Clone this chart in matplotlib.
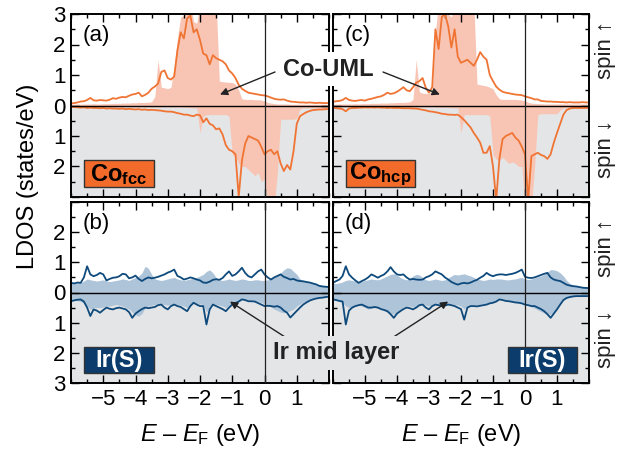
import numpy as np
import matplotlib
matplotlib.use('Agg')
import matplotlib.pyplot as plt
from matplotlib.patches import Rectangle
from matplotlib.ticker import FixedLocator, MultipleLocator, FuncFormatter

plt.rcParams['font.family'] = ['Liberation Sans', 'DejaVu Sans']
plt.rcParams['mathtext.fontset'] = 'custom'
plt.rcParams['mathtext.rm'] = 'Liberation Sans'
plt.rcParams['mathtext.it'] = 'Liberation Sans:italic'
plt.rcParams['mathtext.bf'] = 'Liberation Sans:bold'

# energy grid, -6 ... 2 eV in 0.1 eV steps
energy = np.round(np.linspace(-6, 2, 81), 1)

# Co fcc: filled = reference layer, line = Co-UML (spin down given as magnitude)
co_fcc_up_fill = [
    0.04, 0.04, 0.05, 0.04, 0.05, 0.05, 0.05, 0.06, 0.05, 0.05,
    0.06, 0.06, 0.06, 0.07, 0.07, 0.07, 0.08, 0.08, 0.08, 0.09,
    0.09, 0.10, 0.10, 0.10, 0.11, 0.12, 0.30, 1.50, 0.60, 0.58,
    0.55, 0.60, 1.30, 2.20, 2.90, 2.95, 3.40, 3.40, 2.75, 2.70,
    3.40, 3.40, 3.40, 3.40, 3.40, 3.40, 0.80, 0.78, 0.77, 0.76,
    0.75, 0.70, 0.50, 0.22, 0.20, 0.20, 0.20, 0.19, 0.19, 0.18,
    0.15, 0.10, 0.08, 0.06, 0.05, 0.05, 0.05, 0.05, 0.04, 0.04,
    0.04, 0.04, 0.04, 0.04, 0.04, 0.04, 0.04, 0.04, 0.04, 0.04, 0.04]
co_fcc_dn_fill = [
    0.05, 0.05, 0.05, 0.05, 0.05, 0.05, 0.05, 0.05, 0.05, 0.05,
    0.05, 0.05, 0.05, 0.05, 0.05, 0.05, 0.05, 0.05, 0.05, 0.05,
    0.05, 0.05, 0.05, 0.05, 0.05, 0.05, 0.05, 0.05, 0.05, 0.05,
    0.05, 0.05, 0.05, 0.05, 0.05, 0.06, 0.06, 0.07, 0.08, 0.08,
    0.90, 0.35, 0.30, 0.30, 0.30, 0.30, 0.30, 0.30, 0.30, 0.35,
    1.60, 1.70, 1.90, 2.00, 2.00, 2.10, 2.20, 2.30, 2.20, 2.50,
    2.40, 3.30, 3.30, 3.30, 2.20, 0.45, 0.45, 0.45, 0.45, 0.45,
    0.42, 0.12, 0.08, 0.08, 0.08, 0.08, 0.08, 0.08, 0.08, 0.08, 0.08]
co_fcc_up_line = [
    0.07, 0.08, 0.10, 0.13, 0.14, 0.18, 0.25, 0.17, 0.16, 0.18,
    0.17, 0.16, 0.19, 0.24, 0.22, 0.26, 0.28, 0.27, 0.32, 0.36,
    0.38, 0.42, 0.30, 0.35, 0.42, 0.55, 0.62, 0.72, 1.10, 1.15,
    0.90, 0.85, 0.95, 1.80, 2.40, 2.20, 2.85, 2.95, 2.40, 2.50,
    2.15, 1.70, 1.65, 1.35, 1.65, 1.55, 1.50, 1.45, 1.35, 1.15,
    1.05, 0.90, 0.68, 0.55, 0.48, 0.42, 0.40, 0.38, 0.36, 0.34,
    0.33, 0.30, 0.26, 0.22, 0.20, 0.19, 0.20, 0.16, 0.13, 0.12,
    0.11, 0.10, 0.10, 0.09, 0.10, 0.09, 0.08, 0.09, 0.08, 0.08, 0.08]
co_fcc_dn_line = [
    0.04, 0.05, 0.06, 0.07, 0.06, 0.08, 0.07, 0.08, 0.08, 0.09,
    0.08, 0.10, 0.09, 0.10, 0.10, 0.11, 0.10, 0.12, 0.11, 0.12,
    0.13, 0.12, 0.14, 0.13, 0.15, 0.14, 0.15, 0.16, 0.17, 0.19,
    0.20, 0.20, 0.22, 0.25, 0.27, 0.30, 0.30, 0.33, 0.35, 0.30,
    0.32, 0.55, 0.42, 0.60, 0.65, 0.78, 0.75, 0.95, 1.30, 1.45,
    1.50, 1.60, 3.00, 1.80, 1.25, 1.00, 1.05, 1.10, 1.15, 1.35,
    1.60, 1.50, 1.45, 1.60, 1.50, 1.90, 2.15, 1.95, 2.10, 1.50,
    0.60, 0.35, 0.28, 0.22, 0.18, 0.15, 0.14, 0.13, 0.13, 0.12, 0.12]

# Co hcp
co_hcp_up_fill = [
    0.04, 0.04, 0.05, 0.05, 0.05, 0.05, 0.05, 0.06, 0.05, 0.06,
    0.06, 0.06, 0.07, 0.07, 0.07, 0.08, 0.08, 0.08, 0.09, 0.09,
    0.10, 0.10, 0.10, 0.11, 0.12, 0.20, 1.50, 0.45, 0.40, 0.40,
    0.40, 0.45, 2.40, 3.40, 3.40, 3.40, 3.00, 2.90, 3.40, 3.40,
    3.40, 3.40, 3.40, 3.40, 3.40, 0.70, 0.68, 0.66, 0.64, 0.60,
    0.55, 0.35, 0.22, 0.20, 0.20, 0.20, 0.20, 0.20, 0.19, 0.18,
    0.15, 0.10, 0.08, 0.07, 0.06, 0.06, 0.05, 0.05, 0.05, 0.05,
    0.05, 0.05, 0.05, 0.05, 0.05, 0.05, 0.05, 0.05, 0.05, 0.05, 0.05]
co_hcp_dn_fill = [
    0.05, 0.05, 0.05, 0.05, 0.05, 0.05, 0.05, 0.05, 0.05, 0.05,
    0.05, 0.05, 0.05, 0.05, 0.05, 0.05, 0.05, 0.05, 0.05, 0.05,
    0.05, 0.05, 0.05, 0.05, 0.05, 0.05, 0.05, 0.05, 0.05, 0.05,
    0.05, 0.05, 0.05, 0.06, 0.06, 0.06, 0.07, 0.07, 0.08, 0.08,
    0.90, 0.30, 0.30, 0.30, 0.30, 0.30, 0.30, 0.30, 0.30, 0.35,
    1.60, 1.75, 1.80, 1.70, 1.80, 1.90, 1.85, 1.90, 2.00, 2.00,
    3.30, 3.30, 3.30, 2.00, 0.30, 0.27, 0.27, 0.27, 0.27, 0.27,
    0.27, 0.15, 0.08, 0.08, 0.08, 0.08, 0.08, 0.08, 0.08, 0.08, 0.08]
co_hcp_up_line = [
    0.12, 0.14, 0.15, 0.18, 0.25, 0.18, 0.16, 0.15, 0.17, 0.18,
    0.16, 0.20, 0.22, 0.25, 0.28, 0.30, 0.35, 0.42, 0.38, 0.40,
    0.45, 0.52, 0.60, 0.50, 0.47, 0.60, 0.75, 0.80, 0.90, 0.58,
    0.42, 0.60, 2.50, 1.85, 2.90, 3.00, 2.60, 1.90, 2.50, 1.60,
    1.40, 1.45, 1.50, 1.40, 1.30, 1.50, 1.75, 1.60, 1.50, 1.00,
    0.80, 0.62, 0.52, 0.45, 0.42, 0.40, 0.38, 0.36, 0.35, 0.34,
    0.30, 0.27, 0.24, 0.20, 0.20, 0.15, 0.14, 0.13, 0.13, 0.12,
    0.12, 0.11, 0.11, 0.10, 0.11, 0.10, 0.10, 0.10, 0.11, 0.10, 0.10]
co_hcp_dn_line = [
    0.08, 0.09, 0.10, 0.12, 0.19, 0.10, 0.08, 0.08, 0.07, 0.07,
    0.06, 0.07, 0.06, 0.07, 0.06, 0.07, 0.07, 0.08, 0.07, 0.08,
    0.08, 0.08, 0.09, 0.09, 0.09, 0.10, 0.10, 0.12, 0.14, 0.16,
    0.19, 0.20, 0.22, 0.24, 0.27, 0.28, 0.30, 0.30, 0.31, 0.30,
    0.38, 0.48, 0.60, 0.72, 0.90, 1.05, 1.22, 1.55, 1.55, 1.33,
    2.00, 3.10, 1.75, 1.10, 1.00, 0.95, 0.90, 1.05, 1.15, 1.35,
    1.60, 3.10, 1.66, 1.60, 1.55, 1.62, 1.66, 1.75, 1.60, 1.22,
    0.90, 0.60, 0.30, 0.15, 0.10, 0.08, 0.08, 0.08, 0.08, 0.08, 0.08]

# Ir middle layer next to fcc Co
ir_fcc_up_fill = [
    0.30, 0.30, 0.32, 0.33, 0.38, 0.45, 0.42, 0.40, 0.38, 0.40,
    0.42, 0.38, 0.36, 0.38, 0.40, 0.42, 0.45, 0.43, 0.40, 0.45,
    0.50, 0.55, 0.65, 0.87, 0.80, 0.60, 0.45, 0.42, 0.40, 0.42,
    0.45, 0.48, 0.50, 0.45, 0.42, 0.40, 0.42, 0.45, 0.48, 0.50,
    0.55, 0.60, 0.70, 0.75, 0.65, 0.50, 0.42, 0.40, 0.42, 0.45,
    0.42, 0.40, 0.42, 0.45, 0.43, 0.40, 0.40, 0.42, 0.42, 0.40,
    0.40, 0.42, 0.45, 0.50, 0.58, 0.65, 0.75, 0.82, 0.80, 0.70,
    0.60, 0.45, 0.40, 0.35, 0.32, 0.30, 0.28, 0.25, 0.23, 0.21, 0.20]
ir_fcc_dn_fill = [
    0.25, 0.25, 0.27, 0.30, 0.35, 0.45, 0.55, 0.50, 0.50, 0.50,
    0.48, 0.45, 0.45, 0.42, 0.40, 0.42, 0.45, 0.50, 0.55, 0.65,
    0.75, 0.78, 0.70, 0.50, 0.45, 0.42, 0.40, 0.38, 0.38, 0.40,
    0.42, 0.40, 0.38, 0.40, 0.42, 0.45, 0.50, 0.42, 0.35, 0.36,
    0.38, 0.40, 0.65, 0.45, 0.38, 0.40, 0.42, 0.45, 0.50, 0.42,
    0.35, 0.32, 0.28, 0.22, 0.22, 0.25, 0.25, 0.27, 0.30, 0.33,
    0.38, 0.42, 0.48, 0.55, 0.60, 0.65, 0.67, 0.65, 0.60, 0.55,
    0.45, 0.38, 0.32, 0.28, 0.24, 0.20, 0.18, 0.16, 0.15, 0.14, 0.13]
ir_fcc_up_line = [
    0.32, 0.30, 0.33, 0.32, 0.50, 0.87, 0.60, 0.54, 0.58, 0.65,
    0.60, 0.40, 0.45, 0.49, 0.50, 0.54, 0.62, 0.60, 0.47, 0.50,
    0.56, 0.45, 0.38, 0.45, 0.50, 0.47, 0.49, 0.52, 0.56, 0.60,
    0.66, 0.70, 0.76, 0.55, 0.50, 0.43, 0.46, 0.50, 0.47, 0.43,
    0.40, 0.33, 0.32, 0.36, 0.42, 0.44, 0.42, 0.48, 0.60, 0.70,
    0.55, 0.60, 0.70, 0.82, 0.65, 0.54, 0.50, 0.60, 0.70, 0.76,
    0.60, 0.50, 0.43, 0.50, 0.55, 0.60, 0.52, 0.48, 0.43, 0.45,
    0.40, 0.38, 0.37, 0.35, 0.33, 0.30, 0.27, 0.22, 0.20, 0.19, 0.18]
ir_fcc_dn_line = [
    0.29, 0.26, 0.24, 0.23, 0.30, 0.50, 0.78, 0.56, 0.60, 0.67,
    0.58, 0.50, 0.54, 0.56, 0.52, 0.50, 0.53, 0.56, 0.65, 0.84,
    0.70, 0.62, 0.55, 0.50, 0.52, 0.50, 0.48, 0.42, 0.40, 0.50,
    0.56, 0.45, 0.40, 0.45, 0.48, 0.55, 0.62, 0.45, 0.34, 0.40,
    0.45, 0.45, 1.06, 0.56, 0.40, 0.45, 0.50, 0.55, 0.62, 0.50,
    0.40, 0.35, 0.30, 0.23, 0.25, 0.29, 0.29, 0.30, 0.35, 0.40,
    0.45, 0.44, 0.45, 0.47, 0.45, 0.50, 0.60, 0.67, 0.83, 0.72,
    0.61, 0.50, 0.40, 0.33, 0.27, 0.23, 0.20, 0.18, 0.17, 0.15, 0.14]

# Ir middle layer next to hcp Co
ir_hcp_up_fill = [
    0.30, 0.30, 0.32, 0.35, 0.40, 0.42, 0.40, 0.38, 0.36, 0.37,
    0.40, 0.42, 0.45, 0.43, 0.42, 0.45, 0.50, 0.55, 0.60, 0.62,
    0.58, 0.50, 0.45, 0.42, 0.45, 0.55, 0.60, 0.58, 0.50, 0.42,
    0.40, 0.42, 0.45, 0.42, 0.40, 0.42, 0.48, 0.55, 0.60, 0.58,
    0.60, 0.62, 0.58, 0.55, 0.50, 0.45, 0.42, 0.40, 0.42, 0.45,
    0.43, 0.45, 0.45, 0.44, 0.42, 0.42, 0.44, 0.45, 0.48, 0.50,
    0.45, 0.43, 0.45, 0.48, 0.52, 0.55, 0.60, 0.68, 0.76, 0.75,
    0.72, 0.65, 0.55, 0.40, 0.30, 0.25, 0.22, 0.20, 0.18, 0.17, 0.16]
ir_hcp_dn_fill = [
    0.22, 0.25, 0.28, 0.35, 0.45, 0.50, 0.48, 0.45, 0.42, 0.45,
    0.50, 0.55, 0.52, 0.50, 0.52, 0.55, 0.60, 0.65, 0.70, 0.72,
    0.65, 0.55, 0.48, 0.45, 0.45, 0.48, 0.45, 0.40, 0.38, 0.42,
    0.45, 0.42, 0.38, 0.40, 0.42, 0.40, 0.38, 0.38, 0.40, 0.42,
    0.45, 0.55, 0.45, 0.40, 0.40, 0.42, 0.40, 0.38, 0.36, 0.33,
    0.30, 0.27, 0.22, 0.22, 0.24, 0.26, 0.28, 0.30, 0.32, 0.35,
    0.38, 0.42, 0.48, 0.52, 0.58, 0.63, 0.68, 0.72, 0.72, 0.65,
    0.52, 0.38, 0.26, 0.20, 0.16, 0.14, 0.13, 0.12, 0.12, 0.12, 0.12]
ir_hcp_up_line = [
    0.32, 0.38, 0.43, 0.55, 0.87, 0.60, 0.49, 0.40, 0.32, 0.38,
    0.43, 0.50, 0.60, 0.55, 0.49, 0.55, 0.60, 0.70, 0.84, 0.70,
    0.60, 0.58, 0.60, 0.50, 0.43, 0.45, 0.43, 0.42, 0.43, 0.50,
    0.54, 0.60, 0.70, 0.65, 0.60, 0.50, 0.43, 0.35, 0.30, 0.26,
    0.30, 0.32, 0.30, 0.33, 0.38, 0.42, 0.49, 0.55, 0.65, 0.58,
    0.54, 0.58, 0.60, 0.60, 0.58, 0.60, 0.62, 0.65, 0.70, 0.76,
    0.52, 0.49, 0.48, 0.50, 0.54, 0.58, 0.62, 0.65, 0.50, 0.43,
    0.40, 0.38, 0.32, 0.26, 0.23, 0.21, 0.20, 0.18, 0.16, 0.15, 0.15]
ir_hcp_dn_line = [
    0.23, 0.25, 0.28, 0.30, 1.06, 0.60, 0.50, 0.45, 0.42, 0.40,
    0.45, 0.50, 0.50, 0.48, 0.50, 0.55, 0.58, 0.62, 0.72, 0.84,
    0.70, 0.62, 0.55, 0.50, 0.52, 0.56, 0.50, 0.42, 0.40, 0.50,
    0.56, 0.45, 0.40, 0.42, 0.45, 0.43, 0.40, 0.42, 0.45, 0.50,
    0.55, 0.90, 0.50, 0.45, 0.45, 0.46, 0.44, 0.42, 0.40, 0.36,
    0.34, 0.30, 0.23, 0.25, 0.28, 0.29, 0.31, 0.33, 0.34, 0.36,
    0.40, 0.42, 0.45, 0.45, 0.50, 0.55, 0.62, 0.72, 0.84, 0.70,
    0.56, 0.40, 0.25, 0.18, 0.15, 0.13, 0.12, 0.12, 0.12, 0.12, 0.12]

x_ticks = [-5, -4, -3, -2, -1, 0, 1]
y_ticks = [-3, -2, -1, 0, 1, 2, 3]

CO_FILL, CO_LINE, CO_BOX = '#f8c5b4', '#f07433', '#f26b2b'
IR_FILL, IR_LINE, IR_BOX = '#aec4d9', '#0e4a7c', '#0b3c6b'
GREY = '#e4e5e7'

W, H = 634, 457
fig = plt.figure(figsize=(W / 100, H / 100), dpi=100)


def px_axes(left, top, right, bottom):
    return fig.add_axes([left / W, 1 - bottom / H, (right - left) / W, (bottom - top) / H])


ax_a = px_axes(71, 14, 329, 197)
ax_c = px_axes(333, 14, 589, 197)
ax_b = px_axes(71, 202, 329, 383)
ax_d = px_axes(333, 202, 589, 383)

panels = [
    (ax_a, co_fcc_up_fill, co_fcc_dn_fill, co_fcc_up_line, co_fcc_dn_line, CO_FILL, CO_LINE),
    (ax_c, co_hcp_up_fill, co_hcp_dn_fill, co_hcp_up_line, co_hcp_dn_line, CO_FILL, CO_LINE),
    (ax_b, ir_fcc_up_fill, ir_fcc_dn_fill, ir_fcc_up_line, ir_fcc_dn_line, IR_FILL, IR_LINE),
    (ax_d, ir_hcp_up_fill, ir_hcp_dn_fill, ir_hcp_up_line, ir_hcp_dn_line, IR_FILL, IR_LINE),
]

for ax, up_f, dn_f, up_l, dn_l, fcol, lcol in panels:
    ax.axhspan(-4, 0, color=GREY, lw=0, zorder=0)
    ax.fill_between(energy, 0, up_f, color=fcol, lw=0, zorder=1)
    ax.fill_between(energy, -np.array(dn_f), 0, color=fcol, lw=0, zorder=1)
    ax.plot(energy, up_l, color=lcol, lw=1.3, zorder=2)
    ax.plot(energy, -np.array(dn_l), color=lcol, lw=1.3, zorder=2)
    ax.axhline(0, color='black', lw=1.0, zorder=3)
    ax.axvline(0, color='#222222', lw=0.9, zorder=3)
    ax.set_xlim(-6, 2)
    ax.set_ylim(-3, 3)
    ax.xaxis.set_major_locator(FixedLocator(x_ticks))
    ax.xaxis.set_minor_locator(MultipleLocator(0.5))
    ax.yaxis.set_major_locator(FixedLocator(y_ticks))
    ax.yaxis.set_minor_locator(MultipleLocator(0.5))
    ax.tick_params(which='both', direction='in', top=True, right=True,
                   labelsize=16, width=1.0, pad=4)
    ax.tick_params(which='major', length=6)
    ax.tick_params(which='minor', length=3)
    for s in ax.spines.values():
        s.set_linewidth(1.4)

# |DOS| on the y axis; drop the shared 3 between the rows
ax_a.yaxis.set_major_formatter(FuncFormatter(lambda v, p: '' if v == -3 else '%d' % abs(v)))
ax_b.yaxis.set_major_formatter(FuncFormatter(lambda v, p: '' if v == 3 else '%d' % abs(v)))
for ax in (ax_c, ax_d):
    ax.set_yticklabels([])
for ax in (ax_a, ax_c):
    ax.set_xticklabels([])
for ax in (ax_b, ax_d):
    ax.set_xlabel('$E$ – $E_{\\mathrm{F}}$ (eV)', fontsize=17, labelpad=9)

# panel letters
for ax, letter in zip((ax_a, ax_b, ax_c, ax_d), 'abcd'):
    ax.text(0.045, 0.94, '(%s)' % letter, transform=ax.transAxes,
            fontsize=16, va='top', ha='left', zorder=5)

# species boxes
boxes = [
    (ax_a, 0.05, r'$\mathbf{Co_{fcc}}$', CO_BOX, 'black'),
    (ax_c, 0.05, r'$\mathbf{Co_{hcp}}$', CO_BOX, 'black'),
    (ax_b, 0.05, 'Ir(S)', IR_BOX, 'white'),
    (ax_d, 0.683, 'Ir(S)', IR_BOX, 'white'),
]
for ax, x0, label, face, tcol in boxes:
    ax.add_patch(Rectangle((x0, 0.055), 0.27, 0.145, transform=ax.transAxes,
                           facecolor=face, edgecolor='#333333', lw=1.0, zorder=5))
    ax.text(x0 + 0.135, 0.125, label, transform=ax.transAxes, ha='center',
            va='center', fontsize=17, fontweight='bold', color=tcol, zorder=6)

# labels sitting across the two columns, with a patch hiding the spines behind
fig.text(328 / W, 1 - 69 / H, 'Co-UML', fontsize=17, fontweight='bold',
         ha='center', va='center', color='#222222',
         bbox=dict(facecolor='white', edgecolor='none', pad=4))
fig.text(336 / W, 1 - 353 / H, 'Ir mid layer', fontsize=17, fontweight='bold',
         ha='center', va='center', color='#222222',
         bbox=dict(facecolor=GREY, edgecolor='none', pad=4))
arrow = dict(arrowstyle='-|>', color='#222222', lw=1.0, mutation_scale=11,
             shrinkA=0, shrinkB=0)
ax_a.annotate('', xy=(-1.38, 0.36), xytext=(275 / W, 1 - 72 / H),
              textcoords='figure fraction', arrowprops=arrow, annotation_clip=False)
ax_c.annotate('', xy=(-2.66, 0.36), xytext=(383 / W, 1 - 72 / H),
              textcoords='figure fraction', arrowprops=arrow, annotation_clip=False)
ax_b.annotate('', xy=(-1.07, -0.3), xytext=(285 / W, 1 - 337 / H),
              textcoords='figure fraction', arrowprops=arrow, annotation_clip=False)
ax_d.annotate('', xy=(-2.4, -0.3), xytext=(392 / W, 1 - 338 / H),
              textcoords='figure fraction', arrowprops=arrow, annotation_clip=False)

# axis titles
fig.text(28 / W, 1 - 176 / H, 'LDOS (states/eV)', rotation=90, fontsize=17,
         ha='center', va='center')
for yc, label in [(50, 'spin ↑'), (149, 'spin ↓'), (248, 'spin ↑'), (339, 'spin ↓')]:
    fig.text(605 / W, 1 - yc / H, label, rotation=90, fontsize=16,
             ha='center', va='center', color='#222222')

fig.savefig('out.png', dpi=100)
